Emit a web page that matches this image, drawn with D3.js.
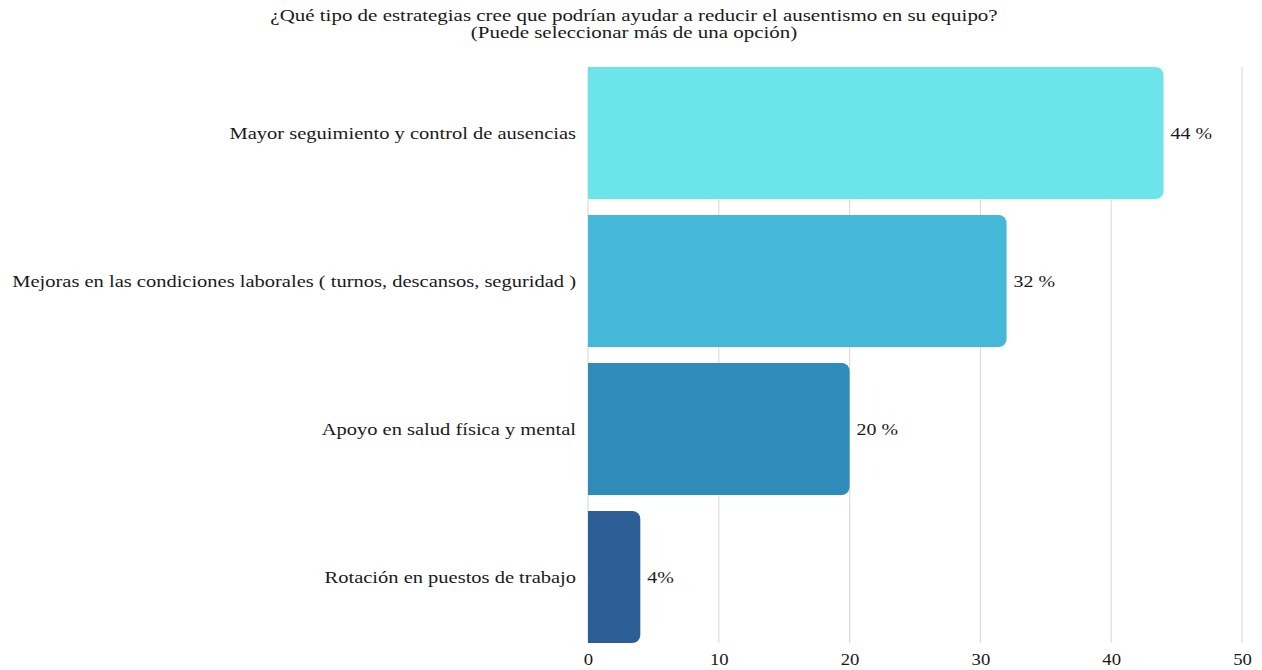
<!DOCTYPE html>
<html>
<head>
<meta charset="utf-8">
<script src="https://cdn.jsdelivr.net/npm/d3@7"></script>
<style>
  html, body { margin: 0; padding: 0; background: #ffffff; }
  svg { display: block; }
  text { font-family: "Liberation Serif", "Times New Roman", serif; fill: #1a1a1a; }
</style>
</head>
<body>
<svg id="chart" width="1262" height="670"></svg>
<script>
// Strategies to reduce absenteeism (percent of respondents)
const categories = [
  "Mayor seguimiento y control de ausencias",
  "Mejoras en las condiciones laborales ( turnos, descansos, seguridad )",
  "Apoyo en salud física y mental",
  "Rotación en puestos de trabajo"
];
const values = [44, 32, 20, 4];
const valueLabels = ["44 %", "32 %", "20 %", "4%"];
const barColors = ["#6be5e9", "#45b8d7", "#2e8bba", "#2e5e96"];
const tickValues = [0, 10, 20, 30, 40, 50];
const titleLines = [
  "¿Qué tipo de estrategias cree que podrían ayudar a reducir el ausentismo en su equipo?",
  "(Puede seleccionar más de una opción)"
];

const svg = d3.select("#chart");
const margin = { left: 588, right: 20, top: 67, bottom: 27 };
const width = 1262, height = 670;

const x = d3.scaleLinear().domain([0, 50]).range([margin.left, 1242]);
const y = d3.scaleBand()
  .domain(categories)
  .range([margin.top, height - margin.bottom])
  .paddingInner(0.108)
  .paddingOuter(0);

// Widen text horizontally (the typeface is set wide)
function stretch(sel, factor) {
  sel.each(function () {
    const w = this.getComputedTextLength();
    d3.select(this)
      .attr("textLength", w * factor)
      .attr("lengthAdjust", "spacingAndGlyphs");
  });
}

// Title
svg.append("g").selectAll("text")
  .data(titleLines)
  .join("text")
  .attr("x", 634)
  .attr("y", (d, i) => 21 + i * 17)
  .attr("text-anchor", "middle")
  .style("font-size", "16.5px")
  .text(d => d)
  .call(stretch, 1.27);

// Vertical gridlines
svg.append("g").selectAll("line")
  .data(tickValues)
  .join("line")
  .attr("x1", d => x(d)).attr("x2", d => x(d))
  .attr("y1", margin.top).attr("y2", height - margin.bottom)
  .attr("stroke", "#dcdcdc")
  .attr("stroke-width", 1.2);

// Bars: square at the baseline, rounded at the value end
const r = 8;
function barPath(d, i) {
  const x0 = x(0), x1 = x(d), y0 = y(categories[i]), h = y.bandwidth();
  const rr = Math.min(r, (x1 - x0) / 2);
  return `M${x0},${y0}H${x1 - rr}A${rr},${rr} 0 0 1 ${x1},${y0 + rr}` +
         `V${y0 + h - rr}A${rr},${rr} 0 0 1 ${x1 - rr},${y0 + h}H${x0}Z`;
}
svg.append("g").selectAll("path")
  .data(values)
  .join("path")
  .attr("d", barPath)
  .attr("fill", (d, i) => barColors[i]);

// Value labels
svg.append("g").selectAll("text")
  .data(values)
  .join("text")
  .attr("x", d => x(d) + 7)
  .attr("y", (d, i) => y(categories[i]) + y.bandwidth() / 2)
  .attr("dy", "0.35em")
  .style("font-size", "17px")
  .text((d, i) => valueLabels[i])
  .call(stretch, 1.17);

// Category labels
svg.append("g").selectAll("text")
  .data(categories)
  .join("text")
  .attr("x", x(0) - 12)
  .attr("y", d => y(d) + y.bandwidth() / 2)
  .attr("dy", "0.35em")
  .attr("text-anchor", "end")
  .style("font-size", "17px")
  .text(d => d)
  .call(stretch, 1.205);

// Bottom axis
const axis = d3.axisBottom(x).tickValues(tickValues).tickSize(0).tickPadding(10);
const gAxis = svg.append("g")
  .attr("transform", `translate(0,${height - margin.bottom})`)
  .call(axis);
gAxis.select(".domain").remove();
gAxis.selectAll("text")
  .style("font-size", "17px")
  .style("font-family", "'Liberation Serif', 'Times New Roman', serif")
  .attr("fill", "#1a1a1a")
  .call(stretch, 1.1);
</script>
</body>
</html>
